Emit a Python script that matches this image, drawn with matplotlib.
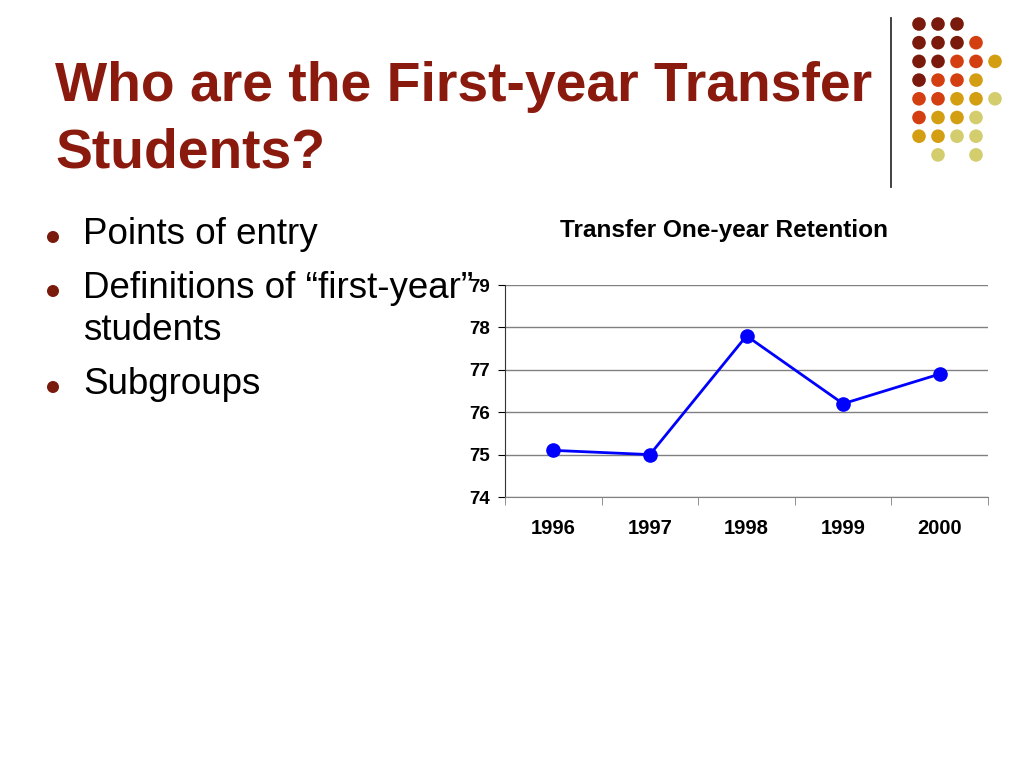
import matplotlib
matplotlib.use("Agg")
import matplotlib.pyplot as plt
from matplotlib.patches import Circle
import numpy as np

plt.rcParams['font.family'] = ['Liberation Sans', 'DejaVu Sans']

# datos del grafico
years = ['1996', '1997', '1998', '1999', '2000']
retention = [75.1, 75.0, 77.8, 76.2, 76.9]
y_ticks = [74, 75, 76, 77, 78, 79]

title_1 = 'Who are the First-year Transfer'
title_2 = 'Students?'
bullets = ['Points of entry', 'Definitions of \u201cfirst-year\u201d', 'Subgroups']
chart_title = 'Transfer One-year Retention'

# decoracion de puntos: (fila, columna, color)
dark, orange, gold, pale = '#7A1A0C', '#D43F12', '#D49E12', '#D3CD6E'
deco_dots = [
    (0, 0, dark), (0, 1, dark), (0, 2, dark),
    (1, 0, dark), (1, 1, dark), (1, 2, dark), (1, 3, orange),
    (2, 0, dark), (2, 1, dark), (2, 2, orange), (2, 3, orange), (2, 4, gold),
    (3, 0, dark), (3, 1, orange), (3, 2, orange), (3, 3, gold),
    (4, 0, orange), (4, 1, orange), (4, 2, gold), (4, 3, gold), (4, 4, pale),
    (5, 0, orange), (5, 1, gold), (5, 2, gold), (5, 3, pale),
    (6, 0, gold), (6, 1, gold), (6, 2, pale), (6, 3, pale),
    (7, 1, pale), (7, 3, pale),
]

W, H = 1024, 768
fig = plt.figure(figsize=(10.24, 7.68), dpi=100)
fig.patch.set_facecolor('white')

# capa de fondo en pixeles para textos y decoracion
bg = fig.add_axes([0, 0, 1, 1])
bg.set_xlim(0, W)
bg.set_ylim(H, 0)
bg.axis('off')

bg.text(55, 87, title_1, color='#8B1A0E', fontsize=39.8,
        fontweight='bold', va='center', ha='left')
bg.text(55, 153, title_2, color='#8B1A0E', fontsize=39.8,
        fontweight='bold', va='center', ha='left')

bg.plot([891, 891], [18, 187], color='#333333', lw=1.3)
for r, c, col in deco_dots:
    bg.add_patch(Circle((919 + c * 19, 24 + r * 18.7), 6.8, color=col, lw=0))

# vinetas
bullet_y = [235, 289, 385]
for yy, txt in zip(bullet_y, bullets):
    bg.add_patch(Circle((53, yy + 2), 6, color='#7A1A0C', lw=0))
    bg.text(83, yy, txt, fontsize=26.5, va='center', ha='left')
bg.text(83, 331, 'students', fontsize=26.5, va='center', ha='left')

bg.text(724, 230, chart_title, fontsize=17.6, fontweight='bold', ha='center', va='center')

# grafico de lineas
ax = fig.add_axes([505 / W, 1 - 497 / H, (988 - 505) / W, (497 - 285) / H])
x = np.arange(len(years))
ax.plot(x, retention, color='#0000FF', lw=2, marker='o', ms=9.5, zorder=3)
ax.set_xlim(-0.5, len(years) - 0.5)
ax.set_ylim(74, 79)
ax.set_yticks(y_ticks)
ax.set_yticklabels([str(v) for v in y_ticks], fontsize=13.5, fontweight='bold')
ax.set_xticks(x)
ax.set_xticklabels(years, fontsize=14.5, fontweight='bold')
ax.set_xticks(np.arange(len(years) + 1) - 0.5, minor=True)
ax.tick_params(axis='x', which='major', length=0, pad=16)
ax.tick_params(axis='x', which='minor', length=6, color='#808080')
ax.tick_params(axis='y', length=5, pad=6)
ax.yaxis.grid(True, color='#808080', lw=1)
ax.set_axisbelow(True)
for s in ['top', 'right']:
    ax.spines[s].set_visible(False)
ax.spines['bottom'].set_color('#808080')
ax.spines['left'].set_color('#333333')

fig.savefig('out.png', dpi=100, facecolor='white')
